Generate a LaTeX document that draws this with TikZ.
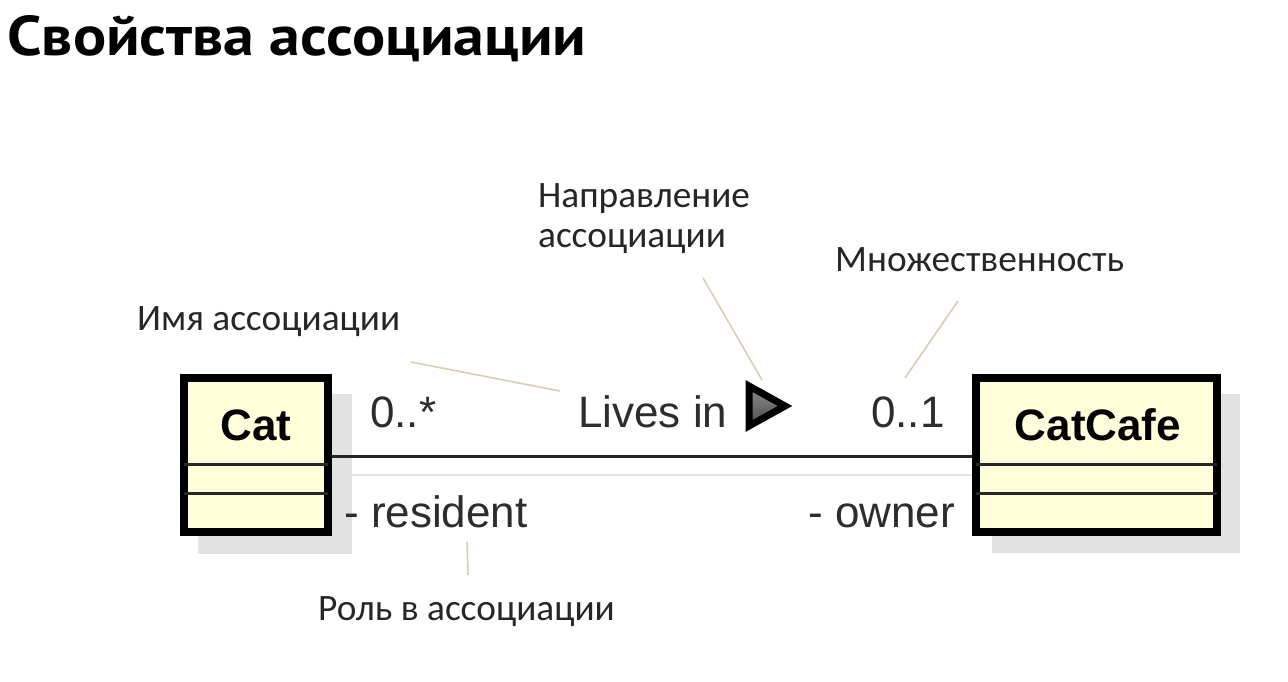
\documentclass[tikz,border=0pt]{standalone}
\usepackage{fontspec}
\newfontfamily\annfont{Carlito}
\newfontfamily\umlfont{Liberation Sans}
\newfontfamily\titlefont{PT Sans}
\definecolor{classfill}{RGB}{255,253,218}
\definecolor{shadowgray}{RGB}{226,226,226}
\definecolor{tanline}{RGB}{222,204,176}
\definecolor{umltext}{RGB}{45,45,45}
\definecolor{linkshadow}{RGB}{228,228,228}
\begin{document}
\begin{tikzpicture}[x=1pt,y=-1pt,
  classbox/.style={draw=black, line width=8pt, fill=classfill, inner sep=0pt, minimum width=#1, minimum height=154pt},
  compline/.style={draw=black!85, line width=3pt, shorten >=4pt, shorten <=4pt},
  assoc/.style={draw=black!85, line width=3pt},
  annline/.style={draw=tanline, line width=1.6pt},
  annotext/.style={font=\annfont\fontsize{37.3}{40}\selectfont, inner sep=0pt, anchor=base west, text=black!85},
  umllabel/.style={font=\umlfont\fontsize{44}{50}\selectfont, inner sep=0pt, anchor=base west, text=umltext},
  classname/.style={font=\umlfont\bfseries\fontsize{44}{50}\selectfont, inner sep=0pt, anchor=base, text=black}
]
\useasboundingbox (0,0) rectangle (1288,681);
\fill[white] (0,0) rectangle (1288,681);

% title
\node[font=\titlefont\bfseries\fontsize{56}{60}\selectfont, inner sep=0pt, anchor=base west] (title) at (7,55) {\scalebox{1.105}[1]{Свойства ассоциации}};

% shadows
\fill[shadowgray] (198,394) rectangle (352,554);
\fill[shadowgray] (992,394) rectangle (1240,553);
\draw[linkshadow, line width=2pt] (350,475) -- (992,475);

% classes
\node[classbox=144pt] (cat) at (256,455) {};
\node[classbox=241pt] (cafe) at (1096.5,455) {};
\draw[compline] ([yshift=-9pt]cat.west) -- ([yshift=-9pt]cat.east);
\draw[compline] ([yshift=-38pt]cat.west) -- ([yshift=-38pt]cat.east);
\draw[compline] ([yshift=-9pt]cafe.west) -- ([yshift=-9pt]cafe.east);
\draw[compline] ([yshift=-38pt]cafe.west) -- ([yshift=-38pt]cafe.east);
\node[classname] (catname) at (256,440) {Cat};
\node[classname] (cafename) at (1098,440) {CatCafe};

% association
\draw[assoc] ([yshift=-1pt]cat.east) -- ([yshift=-1pt]cafe.west);

% labels
\node[umllabel] (multcat) at (370,427) {0..*};
\node[umllabel] (name) at (578,427) {Lives in};
\node[umllabel] (multcafe) at (871,427) {0..1};
\node[umllabel] (rolecat) at (344,527) {- resident};
\node[umllabel] (rolecafe) at (808,527) {- owner};

% direction triangle
\shade[top color=black!45, bottom color=black!70, draw=black, line width=7pt, line join=miter]
  (749,386) -- (785,406) -- (749,426) -- cycle;
\coordinate (tri) at (762,380);

% annotations
\node[annotext] (annname) at (137,330) {Имя ассоциации};
\node[annotext] (anndir1) at (538,207) {Направление};
\node[annotext] (anndir2) at (538,247) {ассоциации};
\node[annotext] (annmult) at (835,271) {Множественность};
\node[annotext] (annrole) at (318,620) {Роль в ассоциации};

\coordinate (nameA) at (411,362);
\coordinate (nameB) at (560,391);
\coordinate (dirA) at (703,278);
\coordinate (multA) at (958,301);
\coordinate (multB) at (905,378);
\coordinate (roleA) at (467,542);
\coordinate (roleB) at (468,575);
\draw[annline] (nameA) -- (nameB);
\draw[annline] (dirA) -- (tri);
\draw[annline] (multA) -- (multB);
\draw[annline] (roleA) -- (roleB);
\end{tikzpicture}
\end{document}
